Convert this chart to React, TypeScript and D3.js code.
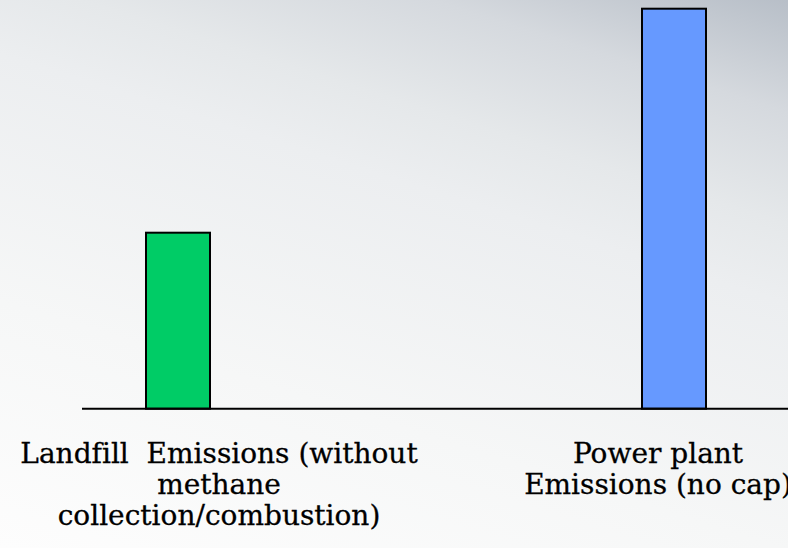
import React from "react";
import * as d3 from "d3";

const categories = ["Landfill", "Power plant"];
const values = [44, 100];
const colors = ["#00cc66", "#6699ff"];
const labelLines = [
  ["Landfill  Emissions (without", "methane", "collection/combustion)"],
  ["Power plant", "Emissions (no cap)"],
];
const labelCenters = [219, 658];

const W = 788;
const H = 548;

export default function App() {
  const baseY = 408.7;
  const y = d3.scaleLinear().domain([0, 100]).range([baseY, 8.7]);
  const x = d3.scalePoint<string>().domain(categories).range([178, 674]);
  const barW = 64;
  return (
    <svg
      width={W}
      height={H}
      style={{ position: "absolute", left: 0, top: 0, display: "block" }}
    >
      <defs>
        <linearGradient
          id="bg"
          gradientUnits="userSpaceOnUse"
          x1={0}
          y1={548}
          x2={229.5}
          y2={-176}
        >
          <stop offset="0" stopColor="#fdfdfd" />
          <stop offset="0.31" stopColor="#f6f7f7" />
          <stop offset="0.62" stopColor="#eceef0" />
          <stop offset="0.72" stopColor="#e5e8ea" />
          <stop offset="0.86" stopColor="#d5d9de" />
          <stop offset="1" stopColor="#b8bfc8" />
        </linearGradient>
      </defs>
      <rect x={0} y={0} width={W} height={H} fill="url(#bg)" />
      {categories.map((c, i) => (
        <rect
          key={c}
          x={(x(c) as number) - barW / 2}
          y={y(values[i])}
          width={barW}
          height={baseY - y(values[i])}
          fill={colors[i]}
          stroke="#000"
          strokeWidth={2}
        />
      ))}
      <line x1={82} x2={W} y1={baseY} y2={baseY} stroke="#000" strokeWidth={2} />
      {labelLines.map((lines, i) => (
        <text
          key={i}
          x={labelCenters[i]}
          textAnchor="middle"
          fontFamily="DejaVu Serif"
          fontSize={28}
          fill="#000"
          stroke="#000"
          strokeWidth={0.3}
          style={{ fontVariantLigatures: "none" }}
        >
          {lines.map((l, j) => (
            <tspan key={j} x={labelCenters[i]} y={463 + j * 31} style={{ whiteSpace: "pre" }}>
              {l}
            </tspan>
          ))}
        </text>
      ))}
    </svg>
  );
}
